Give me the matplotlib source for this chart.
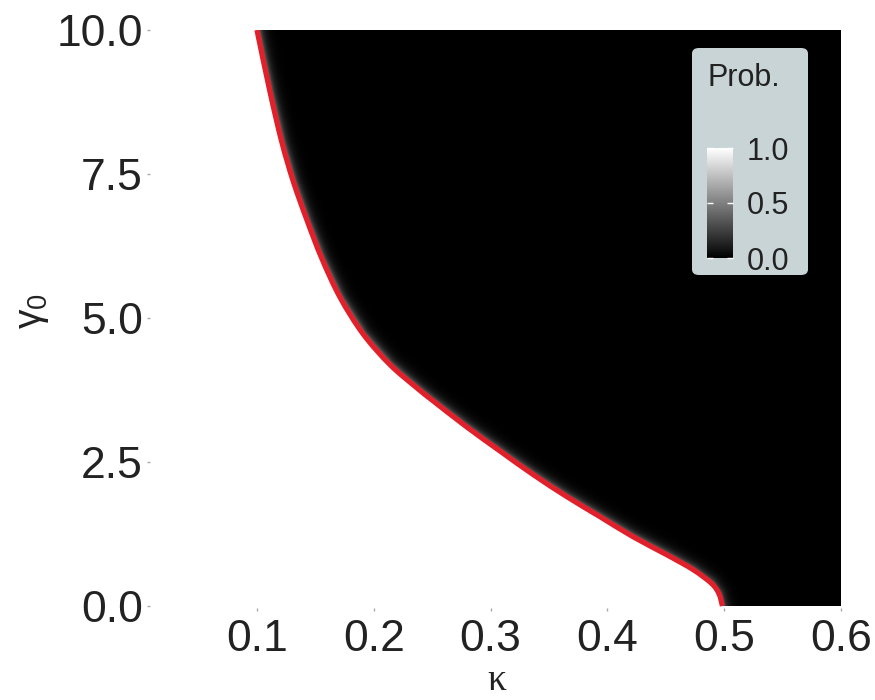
import numpy as np
import matplotlib
matplotlib.use("Agg")
import matplotlib.pyplot as plt
from matplotlib.patches import FancyBboxPatch, PathPatch
from matplotlib.path import Path

plt.rcParams['font.family'] = ['Liberation Sans', 'DejaVu Sans']
plt.rcParams['mathtext.fontset'] = 'custom'
plt.rcParams['mathtext.rm'] = 'Liberation Sans'
plt.rcParams['mathtext.it'] = 'Liberation Sans'

# boundary between prob=1 (white) and prob=0 (black)
kappa_edge = [0.1000, 0.1111, 0.1212, 0.1311, 0.1426, 0.1554, 0.1711, 0.1910,
              0.2139, 0.2367, 0.2509, 0.2795, 0.3081, 0.3366, 0.3652, 0.3937,
              0.4222, 0.4508, 0.4735, 0.4893, 0.4956, 0.4985]
gamma_edge = [10.00, 8.93, 8.06, 7.37, 6.71, 6.04, 5.36, 4.72,
              4.19, 3.79, 3.56, 3.11, 2.69, 2.28, 1.90, 1.55,
              1.20, 0.89, 0.63, 0.39, 0.21, 0.00]

xticks = [0.1, 0.2, 0.3, 0.4, 0.5, 0.6]
yticks = [0.0, 2.5, 5.0, 7.5, 10.0]
cb_ticks = [0.0, 0.5, 1.0]

# probability grid (1 left/below the edge, 0 above, small grey halo on the dark side)
kx = np.linspace(0.1, 0.6, 400)
gy = np.linspace(0.0, 10.0, 400)
K, G = np.meshgrid(kx, gy)
gb = np.interp(K, kappa_edge, gamma_edge, right=-1.0)
inside = G < gb
# distance to the edge in pixel units
px_k, px_g = 1168.0, 57.6
ek = np.array(kappa_edge) * px_k
eg = np.array(gamma_edge) * px_g
P = np.stack([K.ravel() * px_k, G.ravel() * px_g], axis=1)
dmin = np.full(P.shape[0], np.inf)
for i in range(len(ek) - 1):
    a = np.array([ek[i], eg[i]])
    b = np.array([ek[i + 1], eg[i + 1]])
    ab = b - a
    t = np.clip(((P - a) @ ab) / (ab @ ab), 0, 1)
    proj = a + t[:, None] * ab
    dmin = np.minimum(dmin, np.hypot(*(P - proj).T))
dmin = dmin.reshape(K.shape)
prob = np.where(inside, 1.0, 0.55 * np.exp(-dmin / 4.0))


def smooth_path(xs, ys):
    # catmull-rom through the read points, drawn as cubic bezier segments
    pts = np.column_stack([xs, ys])
    verts = [pts[0]]
    codes = [Path.MOVETO]
    for i in range(len(pts) - 1):
        p0 = pts[max(i - 1, 0)]
        p1, p2 = pts[i], pts[i + 1]
        p3 = pts[min(i + 2, len(pts) - 1)]
        verts += [p1 + (p2 - p0) / 6, p2 - (p3 - p1) / 6, p2]
        codes += [Path.CURVE4] * 3
    return Path(verts, codes)


fig = plt.figure(figsize=(8.75, 7), dpi=100)
ax = fig.add_axes([150 / 875, 1 - 608 / 700, 691 / 875, 578 / 700])
im = ax.imshow(prob, extent=[0.1, 0.6, 0.0, 10.0], origin='lower', cmap='gray',
               vmin=0, vmax=1, aspect='auto', interpolation='bilinear')
ax.add_patch(PathPatch(smooth_path(kappa_edge, gamma_edge), facecolor='none',
                       edgecolor='#e0202a', lw=3.8, capstyle='butt'))

ax.set_xlim(0.1 - 107 / 1168, 0.6)
ax.set_ylim(-0.035, 10.0)
for s in ax.spines.values():
    s.set_visible(False)
ax.set_xticks(xticks)
ax.set_xticklabels([f'{v:.1f}' for v in xticks])
ax.set_yticks(yticks)
ax.set_yticklabels([f'{v:.1f}' for v in yticks])
ax.tick_params(length=2, width=1, color='#aaaaaa', labelsize=32, labelcolor='#222222')
ax.tick_params(axis='x', pad=6)
ax.tick_params(axis='y', pad=3)
fig.text(497 / 875, 1 - 681 / 700, 'κ', fontsize=27, family='Liberation Serif',
         color='#222222', ha='center', va='center')
fig.text(33 / 875, 1 - 311 / 700, r'$\gamma_0$', fontsize=28, color='#222222',
         rotation=90, ha='center', va='center')

# legend box
box = FancyBboxPatch((692 / 875, 1 - 275 / 700), 116 / 875, 227 / 700,
                     boxstyle='round,pad=0,rounding_size=0.008',
                     transform=fig.transFigure, facecolor='#c9d4d7', edgecolor='none',
                     zorder=2)
fig.patches.append(box)
fig.text(707 / 875, 1 - 78 / 700, 'Prob.', fontsize=22, color='#222222', va='center',
         zorder=4)
cax = fig.add_axes([707 / 875, 1 - 258 / 700, 26 / 875, 110 / 700])
cax.set_zorder(3)
cb = fig.colorbar(im, cax=cax, ticks=cb_ticks)
cb.outline.set_visible(False)
cb.ax.set_yticklabels([f'{v:.1f}' for v in cb_ticks])
cb.ax.tick_params(direction='in', left=True, right=True, color='white', length=4,
                  width=1, labelsize=22, labelcolor='#222222', pad=10)

fig.savefig('out.png', dpi=100)
